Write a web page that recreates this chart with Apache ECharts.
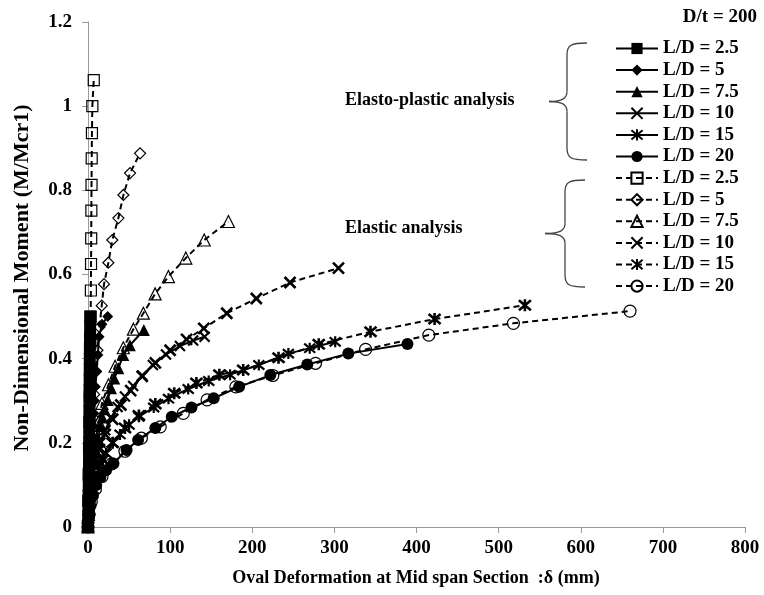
<!DOCTYPE html>
<html><head><meta charset="utf-8">
<script src="https://cdn.jsdelivr.net/npm/echarts@6/dist/echarts.min.js"></script>
<style>html,body{margin:0;padding:0;background:#fff}#c{width:764px;height:595px}</style>
</head><body><div id="c"></div>
<script>
// ---- data (x = oval deformation mm, y = M/Mcr1) ----
const epLD25 = [[0,0],[0.3,0.025],[0.5,0.05],[0.7,0.075],[0.9,0.1],[1.0,0.125],[1.2,0.15],[1.3,0.175],[1.4,0.2],[1.5,0.225],[1.6,0.25],[1.7,0.275],[1.8,0.3],[1.9,0.325],[2.0,0.35],[2.1,0.375],[2.2,0.4],[2.3,0.425],[2.4,0.45],[2.6,0.475],[2.8,0.5]];
const epLD5 = [[0,0],[0.8,0.03],[1.6,0.06],[2.4,0.09],[3.2,0.12],[4,0.15],[4.8,0.18],[5.6,0.21],[6.4,0.24],[7.2,0.27],[8,0.3],[9,0.333],[10.5,0.369],[12,0.409],[13.5,0.452],[17,0.482],[24,0.5]];
const epLD75 = [[0,0],[1,0.03],[2.5,0.06],[4,0.09],[6,0.12],[8,0.15],[10,0.18],[12.5,0.21],[15,0.24],[17.5,0.26],[20,0.28],[24,0.302],[28,0.33],[32,0.353],[37,0.377],[43,0.409],[51,0.432],[68,0.468]];
const epLD10 = [[0,0],[1,0.04],[3,0.08],[6,0.12],[10,0.16],[15,0.2],[21,0.23],[28,0.26],[36,0.285],[45,0.31],[55,0.335],[66,0.36],[79,0.385],[95,0.41],[112,0.43],[128,0.443],[142,0.452]];
const epLD15 = [[0,0],[1,0.03],[3,0.06],[6,0.09],[10,0.12],[15,0.15],[22,0.175],[30,0.2],[39,0.22],[50,0.243],[62,0.262],[80,0.284],[98,0.305],[122,0.328],[147,0.347],[173,0.362],[208,0.385],[244,0.412],[270,0.425],[301,0.44]];
const epLD20 = [[0,0],[1,0.025],[3,0.05],[6,0.075],[10,0.1],[15,0.118],[22,0.135],[31,0.151],[47,0.183],[61,0.207],[82,0.235],[102,0.262],[126,0.284],[153,0.306],[184,0.333],[222,0.361],[267,0.386],[317,0.412],[389,0.435]];

const elLD25 = [[0,0],[0.4,0.062],[0.9,0.125],[1.3,0.187],[1.8,0.25],[2.2,0.312],[2.6,0.375],[2.9,0.437],[3.2,0.5],[3.5,0.562],[3.7,0.625],[3.9,0.686],[4.1,0.752],[4.3,0.813],[4.5,0.876],[4.8,0.936],[5.3,1.0],[7.0,1.062]];
const elLD5 = [[0,0],[1,0.052],[2,0.105],[3,0.158],[4.5,0.21],[6,0.26],[7.5,0.315],[9.5,0.37],[11.5,0.42],[14,0.475],[16.7,0.526],[19.5,0.577],[24.8,0.628],[29.6,0.682],[37,0.734],[43.1,0.789],[51.2,0.841],[63.4,0.888]];
const elLD75 = [[0,0],[0.5,0.03],[2,0.074],[4,0.118],[6.5,0.162],[9.5,0.206],[13,0.25],[17,0.294],[25,0.338],[33,0.382],[43,0.426],[55.3,0.47],[67.4,0.508],[81.7,0.554],[97.9,0.595],[119.1,0.639],[141.5,0.682],[171,0.726]];
const elLD10 = [[0,0],[0.7,0.04],[2,0.076],[4.5,0.112],[8,0.148],[14,0.184],[21,0.22],[30,0.256],[40,0.29],[52,0.324],[66,0.358],[82,0.39],[100,0.42],[120,0.446],[141,0.472],[169,0.508],[205,0.543],[246,0.581],[305,0.615]];
const elLD15 = [[0,0],[1.5,0.04],[5,0.08],[10,0.12],[18,0.16],[30,0.2],[45,0.235],[62,0.265],[82,0.292],[105,0.318],[132,0.342],[160,0.362],[189,0.373],[232,0.402],[281,0.434],[344,0.464],[422,0.494],[532,0.527]];
const elLD20 = [[0,0],[1.2,0.03],[4,0.06],[9,0.09],[17,0.12],[29,0.15],[45,0.18],[65,0.211],[88,0.238],[116,0.27],[145,0.302],[180,0.333],[225,0.36],[277,0.389],[338,0.422],[415,0.456],[518,0.484],[660,0.513]];

const legendLabels = ['L/D = 2.5','L/D = 5','L/D = 7.5','L/D = 10','L/D = 15','L/D = 20'];
const titleText = 'D/t = 200';
const yTitle = 'Non-Dimensional Moment (M/Mcr1)';
const xTitle = 'Oval Deformation at Mid span Section  :\u03b4 (mm)';
const noteEP = 'Elasto-plastic analysis';
const noteEL = 'Elastic analysis';

const FONT = '"Liberation Serif","Times New Roman",serif';
const XSYM = 'path://M0,0L10,10M10,0L0,10';
const STAR = 'path://M0,0L10,10M10,0L0,10M5,-1L5,11';

const epData = [epLD25, epLD5, epLD75, epLD10, epLD15, epLD20];
const elData = [elLD25, elLD5, elLD75, elLD10, elLD15, elLD20];
const epSym = [['rect',12],['diamond',11],['triangle',12],[XSYM,10],[STAR,11],['circle',12]];
const elSym = [['rect',11],['diamond',11],['triangle',12],[XSYM,11],[STAR,12],['circle',12]];

const series = [];
const nameMap = {};
epData.forEach((d,i)=>{
  const nm = 'ep'+i; nameMap[nm] = legendLabels[i];
  const isStroke = i===3 || i===4;
  series.push({
    name: nm, type:'line', data:d, symbol:epSym[i][0], symbolSize:epSym[i][1],
    showAllSymbol:true, smooth:false,
    lineStyle:{color:'#000', width:2, type:'solid'},
    itemStyle:{color:'#000', borderColor:'#000', borderWidth:isStroke?2.2:0},
    z: 3
  });
});
elData.forEach((d,i)=>{
  const nm = 'el'+i; nameMap[nm] = legendLabels[i];
  const isStroke = i===3 || i===4;
  series.push({
    name: nm, type:'line', data:d, symbol:elSym[i][0], symbolSize:elSym[i][1],
    showAllSymbol:true, smooth:false,
    lineStyle:{color:'#000', width:2, type:[6,4]},
    itemStyle:{color: isStroke ? '#000' : 'rgba(255,255,255,0)', borderColor:'#000', borderWidth:isStroke?2.6:1.2},
    z: 2
  });
});

function brace(T,B,xr,xv,xm){
  const M=(T+B)/2;
  const st = {stroke:'#444', fill:null, lineWidth:1.3};
  return [
    {type:'bezierCurve', shape:{x1:xr,y1:T,cpx1:xv+4,cpy1:T,cpx2:xv,cpy2:T+2,x2:xv,y2:T+12}, style:st},
    {type:'line', shape:{x1:xv,y1:T+12,x2:xv,y2:M-10}, style:st},
    {type:'bezierCurve', shape:{x1:xv,y1:M-10,cpx1:xv,cpy1:M-3,cpx2:xv-5,cpy2:M,x2:xm,y2:M}, style:st},
    {type:'bezierCurve', shape:{x1:xm,y1:M,cpx1:xv-5,cpy1:M,cpx2:xv,cpy2:M+3,x2:xv,y2:M+10}, style:st},
    {type:'line', shape:{x1:xv,y1:M+10,x2:xv,y2:B-12}, style:st},
    {type:'bezierCurve', shape:{x1:xv,y1:B-12,cpx1:xv,cpy1:B-2,cpx2:xv+4,cpy2:B,x2:xr,y2:B}, style:st}
  ];
}

const chart = echarts.init(document.getElementById('c'));
chart.setOption({
  animation:false,
  backgroundColor:'#fff',
  grid:{left:88, right:19, top:22, bottom:68, containLabel:false},
  xAxis:{type:'value', min:0, max:800, interval:100,
    axisLine:{show:true, onZero:false, lineStyle:{color:'#9a9a9a', width:1}},
    axisTick:{show:true, length:6, lineStyle:{color:'#9a9a9a'}},
    splitLine:{show:false},
    axisLabel:{color:'#000', fontFamily:FONT, fontWeight:'bold', fontSize:19, margin:12}},
  yAxis:{type:'value', min:0, max:1.2, interval:0.2,
    axisLine:{show:true, onZero:false, lineStyle:{color:'#9a9a9a', width:1}},
    axisTick:{show:true, length:6, lineStyle:{color:'#9a9a9a'}},
    splitLine:{show:false},
    axisLabel:{color:'#000', fontFamily:FONT, fontWeight:'bold', fontSize:19, margin:16}},
  legend:{orient:'vertical', left:615, top:39, padding:0, itemWidth:42, itemHeight:14, itemGap:2.6,
    formatter:(n)=>nameMap[n], selectedMode:false,
    textStyle:{color:'#000', fontFamily:FONT, fontWeight:'bold', fontSize:19}},
  graphic:[
    {type:'text', x:757, y:17, style:{text:titleText, font:'bold 19px '+FONT, align:'right', verticalAlign:'middle', fill:'#000'}},
    {type:'text', x:345, y:100, style:{text:noteEP, font:'bold 18px '+FONT, align:'left', verticalAlign:'middle', fill:'#000'}},
    {type:'text', x:345, y:228, style:{text:noteEL, font:'bold 18px '+FONT, align:'left', verticalAlign:'middle', fill:'#000'}},
    {type:'text', x:22, y:278, rotation:Math.PI/2, style:{text:yTitle, font:'bold 22px '+FONT, align:'center', verticalAlign:'middle', fill:'#000'}},
    {type:'text', x:416, y:578, style:{text:xTitle, font:'bold 18px '+FONT, align:'center', verticalAlign:'middle', fill:'#000'}}
  ].concat(brace(43,160,587,567,549), brace(180,287,585,565,545)),
  series: series
});
</script></body></html>
